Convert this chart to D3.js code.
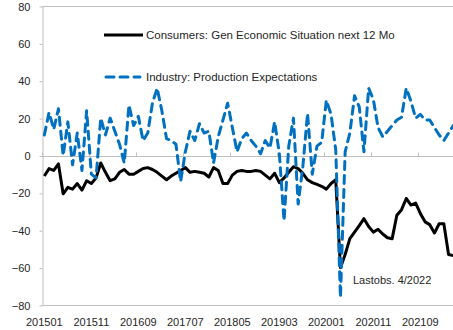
<!DOCTYPE html>
<html>
<head>
<meta charset="utf-8">
<script src="https://cdn.jsdelivr.net/npm/d3@7"></script>
<style>
  body { margin: 0; background: #fff; }
  svg { display: block; }
  text { font-family: "Liberation Sans", Arial, sans-serif; font-size: 11px; fill: #262626; }
  .legend text { font-size: 11.5px; }
</style>
</head>
<body>
<svg id="chart" width="453" height="330"></svg>
<script>
// Monthly categories, 2015-01 .. 2022-04
const months = d3.range(88).map(i => {
  const yr = 2015 + Math.floor(i / 12), m = (i % 12) + 1;
  return `${yr}${String(m).padStart(2, "0")}`;
});
const tickLabels = ["201501", "201511", "201609", "201707", "201805", "201903", "202001", "202011", "202109"];
const yTicks = [-80, -60, -40, -20, 0, 20, 40, 60, 80];

const seriesNames = ["Consumers: Gen Economic Situation next 12 Mo", "Industry: Production Expectations"];

// Consumers: general economic situation, next 12 months (balance)
const consumers = [
  -11, -7, -8, -4.5, -20.5, -17, -18, -15, -18.5, -13.5, -15, -12,
  -4, -9, -13.5, -12.5, -9, -7.5, -10, -10, -8.5, -7, -6.5, -7.5,
  -9, -11, -13, -11, -9.5, -8, -6.5, -9, -8.5, -9, -9.5, -11.5,
  -6.5, -8, -15, -15, -10.5, -8.5, -8, -8.5, -8.5, -8, -8.5, -10.5,
  -12.5, -9.5, -14.5, -12, -9, -6, -7, -9.5, -13, -14.5, -15.5, -16.5,
  -18, -15, -13, -60, -53, -44.5, -41, -37.5, -33.8, -38, -41, -39.5,
  -42, -44, -44.5, -32, -29, -23, -26.5, -25.5, -31, -35.5, -37, -41.5,
  -36.5, -36.5, -53, -53.5
];

// Industry: production expectations (balance)
const industry = [
  11, 23, 14, 25, 0, 18, -5, 12, -8, 24, -10, -12,
  20, 11, 20, 13, 6, -4, 27, 16, 21, 8, 12, 28,
  36, 24, 9, 8, 6, -14, 2, 13, 8, 17, 12, 13,
  -4, 10, 19, 28, 15, 2, 9, 12, 8, 5, 1, 8,
  4, 18, 1, -35, 5, 20, -26, -6, 22.5, -10, 5, 7,
  29.5, 22, 3, -76, 2, 12, 32, 26, 2, 36, 30, 15,
  10, 13, 16, 19, 20.5, 36, 29, 20, 22, 19, 19, 15,
  11, 8, 12, 16
];

const lastObsNote = "Lastobs. 4/2022";

const svg = d3.select("#chart");
const plotLeft = 42, plotTop = 6, plotBottom = 305, step = 4.7, plotRight = 460;

const x = d3.scaleBand().domain(months).range([plotLeft, plotLeft + step * months.length]);
const cx = d => x(d) + x.bandwidth() / 2;
const y = d3.scaleLinear().domain([-80, 80]).range([plotBottom, plotTop]);

const grey = "#bfbfbf";

// plot frame: top, bottom and zero line
[80, -80, 0].forEach(v => {
  svg.append("line")
    .attr("x1", plotLeft).attr("x2", plotRight)
    .attr("y1", Math.round(y(v)) + 0.5).attr("y2", Math.round(y(v)) + 0.5)
    .attr("stroke", grey).attr("stroke-width", 1);
});

// value axis
const yAxis = svg.append("g")
  .attr("transform", `translate(${plotLeft + 0.5},0.5)`)
  .call(d3.axisLeft(y).tickValues(yTicks).tickSize(3).tickSizeOuter(0).tickPadding(9));
yAxis.select(".domain").attr("stroke", grey);
yAxis.selectAll(".tick line").attr("stroke", grey);
yAxis.selectAll(".tick text")
  .style("font-family", "'Liberation Sans', Arial, sans-serif")
  .style("font-size", "11px").attr("fill", "#262626");

// category tick marks on the zero line
tickLabels.forEach(lbl => {
  const xx = Math.round(x(lbl)) + 0.5;
  svg.append("line")
    .attr("x1", xx).attr("x2", xx)
    .attr("y1", Math.round(y(0)) + 0.5).attr("y2", Math.round(y(0)) - 3.5)
    .attr("stroke", grey);
});

// category labels along the bottom
svg.append("g").selectAll("text")
  .data(tickLabels).join("text")
  .attr("x", d => cx(d)).attr("y", 326)
  .attr("text-anchor", "middle")
  .text(d => d);

const line = vals => d3.line()
  .x((d, i) => cx(months[i]))
  .y(d => y(d))(vals);

svg.append("path")
  .attr("d", line(consumers))
  .attr("fill", "none").attr("stroke", "#000").attr("stroke-width", 3)
  .attr("stroke-linejoin", "round");

svg.append("path")
  .attr("d", line(industry))
  .attr("fill", "none").attr("stroke", "#0070c0").attr("stroke-width", 3)
  .attr("stroke-dasharray", "8 6").attr("stroke-linecap", "round")
  .attr("stroke-linejoin", "round");

// legend
const legend = svg.append("g").attr("class", "legend");
legend.append("line").attr("x1", 104).attr("x2", 143).attr("y1", 35).attr("y2", 35)
  .attr("stroke", "#000").attr("stroke-width", 3);
legend.append("text").attr("x", 146).attr("y", 35).attr("dy", "0.35em").text(seriesNames[0]);
legend.append("line").attr("x1", 106).attr("x2", 140).attr("y1", 77).attr("y2", 77)
  .attr("stroke", "#0070c0").attr("stroke-width", 3)
  .attr("stroke-dasharray", "8 6").attr("stroke-linecap", "round");
legend.append("text").attr("x", 146).attr("y", 77).attr("dy", "0.35em").text(seriesNames[1]);

// note on the last observation
svg.append("text").attr("x", 353).attr("y", 280).attr("dy", "0.35em").text(lastObsNote);
</script>
</body>
</html>
